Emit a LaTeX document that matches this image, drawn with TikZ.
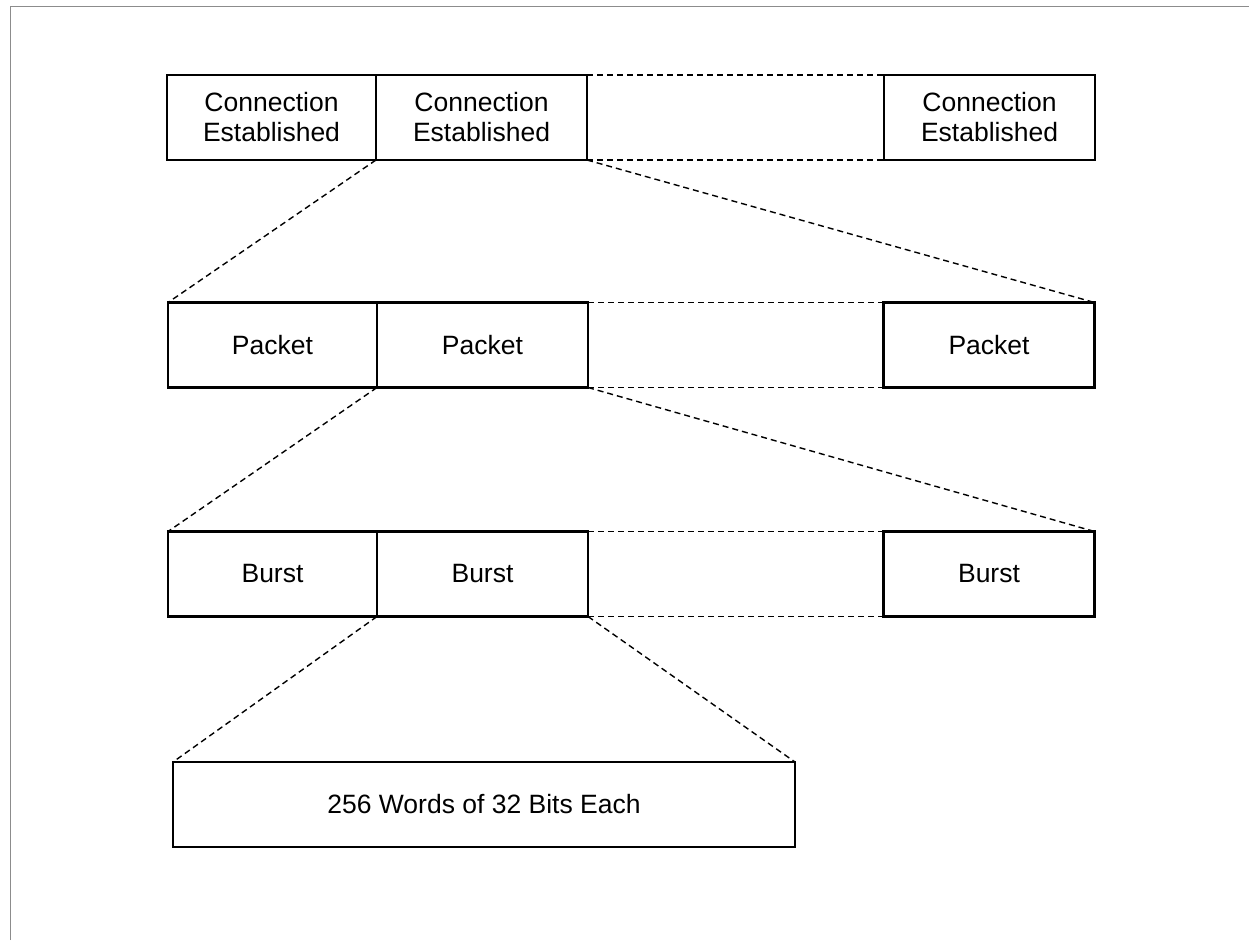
\documentclass[tikz,border=0pt]{standalone}
\usepackage{fontspec}
\setmainfont{Liberation Sans}
\begin{document}
\begin{tikzpicture}[x=1pt,y=-1pt,
  cell/.style={draw, line width=2.8pt, minimum width=210pt, minimum height=85pt,
    inner sep=0pt, outer sep=0pt, align=center,
    font=\fontsize{26.5}{30}\selectfont},
  link/.style={line width=1.4pt, dash pattern=on 6pt off 4pt},
  frame/.style={draw=black!45, line width=1pt}]
\useasboundingbox (0,0) rectangle (1249,940);
% page frame (top and left edges)
\draw[frame] (10,940) -- (10,6) -- (1249,6);

% connection level
\node[cell, minimum width=209pt] (c1) at (271.5,117.5) {Connection\\Established};
\node[cell, minimum width=211pt] (c2) at (481.5,117.5) {Connection\\Established};
\node[cell, minimum width=211pt] (c3) at (989.5,117.5) {Connection\\Established};

% packet level
\node[cell, minimum width=209pt] (p1) at (272.5,345) {Packet};
\node[cell, minimum width=211pt] (p2) at (482.5,345) {Packet};
\node[cell, minimum width=211pt] (p3) at (989,345) {Packet};

% burst level
\node[cell, minimum width=209pt] (b1) at (272.5,574) {Burst};
\node[cell, minimum width=211pt] (b2) at (482.5,574) {Burst};
\node[cell, minimum width=211pt] (b3) at (989,574) {Burst};

% word level
\node[cell, minimum width=622pt] (w) at (484,804.5) {256 Words of 32 Bits Each};

% gaps in each row
\draw[link] (c2.north east) -- (c3.north west);
\draw[link] (c2.south east) -- (c3.south west);
\draw[link] (p2.north east) -- (p3.north west);
\draw[link] (p2.south east) -- (p3.south west);
\draw[link] (b2.north east) -- (b3.north west);
\draw[link] (b2.south east) -- (b3.south west);

% expansion of one element into the next level
\draw[link] (c2.south west) -- (p1.north west);
\draw[link] (c2.south east) -- (p3.north east);
\draw[link] (p2.south west) -- (b1.north west);
\draw[link] (p2.south east) -- (b3.north east);
\draw[link] (b2.south west) -- (w.north west);
\draw[link] (b2.south east) -- (w.north east);
\end{tikzpicture}
\end{document}
